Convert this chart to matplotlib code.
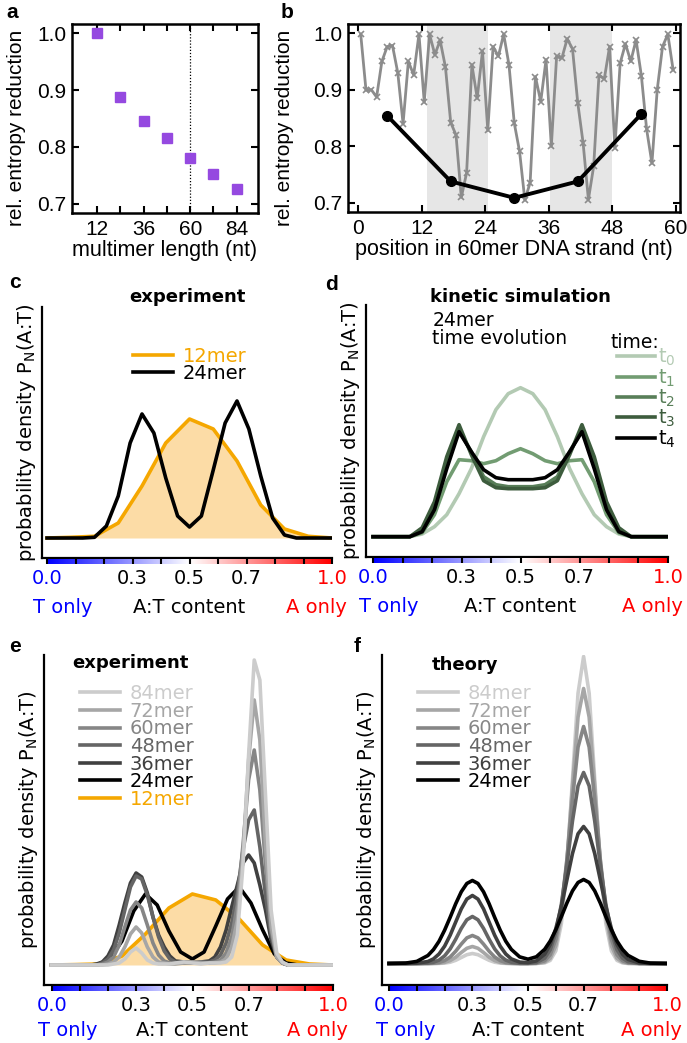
import numpy as np
import matplotlib
matplotlib.use('Agg')
import matplotlib.pyplot as plt

plt.rcParams['font.family'] = 'DejaVu Sans'
plt.rcParams['mathtext.default'] = 'regular'

W, H = 687, 1043

# ---------------------------------------------------
# DATA
# ---------------------------------------------------

# a: entropy reduction vs multimer length
mult_len = [12, 24, 36, 48, 60, 72, 84]
entropy_red = [1.0, 0.888, 0.845, 0.815, 0.78, 0.752, 0.727]

# b: entropy reduction along the 60mer strand
strand_pos = np.arange(1, 61) - 0.5
site_entropy = [0.998, 0.899, 0.900, 0.887, 0.950, 0.976, 0.978, 0.930, 0.840, 0.950,
                0.926, 0.998, 0.878, 0.998, 0.962, 0.987, 0.940, 0.842, 0.820, 0.710,
                0.753, 0.944, 0.885, 0.968, 0.828, 0.976, 0.959, 0.998, 0.944, 0.841,
                0.791, 0.705, 0.736, 0.923, 0.879, 0.953, 0.800, 0.959, 0.956, 0.990,
                0.972, 0.876, 0.806, 0.706, 0.765, 0.926, 0.919, 0.976, 0.797, 0.947,
                0.981, 0.950, 0.988, 0.925, 0.830, 0.770, 0.900, 0.976, 0.998, 0.935]
window_pos = [5.5, 17.5, 29.5, 41.5, 53.5]
window_entropy = [0.854, 0.738, 0.709, 0.738, 0.857]
shaded_regions = [(13.0, 24.5), (36.3, 48.0)]

# c: experiment 12mer / 24mer (arbitrary density units)
grid12 = np.linspace(0, 1, 13)
grid24 = np.linspace(0, 1, 25)
c_12mer = [0, 0.7, 1.7, 15, 52, 95, 119, 109, 77, 33, 9, 1.7, 0]
c_24mer = [0, 0, 0, 0, 0.7, 12, 42, 95, 124, 105, 60, 22, 11, 22, 68, 115, 137,
           109, 62, 20, 3, 0, 0, 0, 0]

# d: kinetic simulation, 24mer time evolution
d_t0 = [0, 0, 0, 0, 2.7, 10, 22, 43, 68, 100, 127, 143, 149, 143, 127, 100, 68, 43,
        22, 10, 2.7, 0, 0, 0, 0]
d_t1 = [0, 0, 0, 0, 4, 22, 55, 77, 76, 73, 76, 83, 88, 83, 76, 73, 76, 77, 55, 22,
        4, 0, 0, 0, 0]
d_t2 = [0, 0, 0, 0, 7, 30, 74, 106, 85, 60, 52, 50, 50, 50, 52, 60, 85, 106, 74,
        30, 7, 0, 0, 0, 0]
d_t3 = [0, 0, 0, 0, 9, 35, 80, 112, 82, 56, 49, 48, 48, 48, 49, 56, 82, 112, 80,
        35, 9, 0, 0, 0, 0]
d_t4 = [0, 0, 0, 0, 5, 27, 68, 105, 85, 67, 59, 57, 57, 57, 59, 67, 85, 105, 68,
        27, 5, 0, 0, 0, 0]

# e/f: common A:T grid for the longer multimers
grid_ef = [0.0, 0.06, 0.1, 0.14, 0.16, 0.18, 0.2, 0.22, 0.24, 0.26, 0.28, 0.3, 0.32,
           0.34, 0.36, 0.38, 0.4, 0.42, 0.44, 0.47, 0.5, 0.53, 0.56, 0.58, 0.6, 0.62,
           0.64, 0.66, 0.68, 0.7, 0.72, 0.74, 0.76, 0.78, 0.8, 0.82, 0.84, 0.86, 0.9,
           0.94, 1.0]

e_12mer = [0, 0.4, 1, 9, 31, 57, 71, 65, 46, 20, 5, 1, 0]
e_24mer = [0, 0, 0, 0, 0.4, 7, 24, 54, 71, 60, 34, 13, 6, 13, 39, 66, 78, 62, 35,
           11, 2, 0, 0, 0, 0]
e_36mer = [0, 0, 0, 0, 1, 3, 9, 20, 40, 62, 82, 92, 88, 72, 48, 30, 18, 9, 4, 3, 2,
           3, 4, 8, 18, 35, 58, 80, 102, 110, 102, 80, 55, 25, 8, 2, 0, 0, 0, 0, 0]
e_48mer = [0, 0, 0, 0, 0, 2, 6, 15, 32, 55, 78, 89, 86, 70, 48, 28, 14, 6, 3, 2, 3,
           2, 3, 5, 10, 22, 42, 72, 115, 145, 155, 118, 70, 30, 8, 2, 0, 0, 0, 0, 0]
e_60mer = [0, 0, 0, 0, 0, 1, 3, 8, 20, 38, 55, 63, 57, 40, 22, 10, 4, 2, 2, 3, 2,
           3, 2, 3, 5, 12, 28, 60, 120, 185, 215, 175, 100, 35, 8, 2, 0, 0, 0, 0, 0]
e_72mer = [0, 0, 0, 0, 0, 0, 1, 3, 8, 18, 31, 38, 32, 18, 8, 3, 2, 1, 1, 2, 3,
           2, 2, 2, 3, 6, 18, 45, 110, 205, 265, 225, 120, 40, 8, 2, 0, 0, 0, 0, 0]
e_84mer = [0, 0, 0, 0, 0, 0, 0, 1, 2, 6, 13, 17, 12, 5, 2, 1, 1, 1, 2, 3, 2,
           1, 2, 2, 2, 3, 8, 30, 100, 210, 305, 285, 170, 55, 12, 3, 0, 0, 0, 0, 0]

f_24mer = [0, 0.4, 2.1, 8.0, 13.9, 22.2, 33.3, 46.2, 59.8, 71.7, 80.0, 83, 80.0, 71.7,
           59.8, 46.2, 33.3, 22.3, 14.1, 6.6, 4.3, 6.7, 14.2, 22.5, 33.7, 46.8, 60.5,
           72.6, 81.0, 84, 81.0, 72.6, 60.5, 46.8, 33.7, 22.5, 14.0, 8.1, 2.2, 0.4, 0]
f_36mer = [0, 0, 0.3, 2.0, 4.6, 9.5, 17.3, 28.3, 41.5, 54.6, 64.4, 68, 64.4, 54.6,
           41.5, 28.3, 17.3, 9.5, 4.6, 1.4, 0.9, 2.6, 9.3, 19.0, 34.8, 57.0, 83.7,
           110.0, 129.7, 137, 129.7, 110.0, 83.7, 57.0, 34.8, 19.0, 9.3, 4.1, 0.6, 0, 0]
f_48mer = [0, 0, 0, 0.4, 1.3, 3.4, 7.6, 14.6, 24.3, 35.1, 43.7, 47, 43.7, 35.1, 24.3,
           14.6, 7.6, 3.4, 1.3, 0.2, 0.2, 1.0, 5.3, 13.8, 30.8, 59.2, 98.9, 142.5,
           177.6, 191, 177.6, 142.5, 98.9, 59.2, 30.8, 13.8, 5.3, 1.8, 0.1, 0, 0]
f_60mer = [0, 0, 0, 0.1, 0.3, 1.0, 2.9, 6.5, 12.3, 19.4, 25.6, 28, 25.6, 19.4, 12.3,
           6.5, 2.9, 1.0, 0.3, 0, 0, 0.3, 2.7, 8.8, 24.2, 55.0, 104.3, 164.5, 216.4,
           237, 216.4, 164.5, 104.3, 55.0, 24.2, 8.8, 2.7, 0.7, 0, 0, 0]
f_72mer = [0, 0, 0, 0, 0.1, 0.3, 1.1, 2.9, 6.3, 11.0, 15.2, 17, 15.2, 11.0, 6.3, 2.9,
           1.1, 0.3, 0.1, 0, 0, 0.1, 1.3, 5.2, 17.7, 47.6, 102.6, 177.4, 246.4, 275,
           246.4, 177.4, 102.6, 47.6, 17.7, 5.2, 1.3, 0.2, 0, 0, 0]
f_84mer = [0, 0, 0, 0, 0, 0.1, 0.4, 1.3, 3.2, 6.0, 8.8, 10, 8.8, 6.0, 3.2, 1.3, 0.4,
           0.1, 0, 0, 0, 0, 0.6, 3.1, 12.6, 39.9, 97.3, 184.2, 270.2, 307, 270.2,
           184.2, 97.3, 39.9, 12.6, 3.1, 0.6, 0, 0, 0, 0]

mer_labels = ['84mer', '72mer', '60mer', '48mer', '36mer', '24mer']
mer_colors = ['#cccccc', '#a6a6a6', '#868686', '#656565', '#404040', '#000000']
time_labels = ['$t_0$', '$t_1$', '$t_2$', '$t_3$', '$t_4$']
time_colors = ['#b3cab3', '#729c72', '#587e58', '#3d5c3d', '#000000']

purple = '#9549e0'
orange = '#f5a700'
orange_fill = '#fcdca6'
LW = 2.6

bar_ticks = np.linspace(0, 1, 11)
bar_labels = ['0.0', '', '', '0.3', '', '0.5', '', '0.7', '', '', '1.0']
bar_label_colors = ['#0000ff'] + ['black'] * 9 + ['#ff0000']


def px_axes(x0, y0, x1, y1):
    return fig.add_axes([x0 / W, 1 - y1 / H, (x1 - x0) / W, (y1 - y0) / H])


def box_style(ax):
    for s in ax.spines.values():
        s.set_linewidth(1.8)
    ax.tick_params(direction='in', top=True, right=True, length=5, width=1.5,
                   labelsize=15, labelfontfamily='Liberation Sans')
    ax.tick_params(axis='x', pad=5)
    ax.tick_params(axis='y', pad=4)


def dist_panel(x0, y0, x1, y1, bx0, bx1, ylim, text_off):
    ax = px_axes(x0, y0, x1, y1)
    ax.set_xlim(-(bx0 - x0) / (bx1 - bx0), 1.0)
    ax.set_ylim(*ylim)
    for s in ['top', 'right']:
        ax.spines[s].set_visible(False)
    ax.spines['left'].set_linewidth(1.6)
    ax.spines['bottom'].set_linewidth(1.6)
    ax.set_xticks([])
    ax.set_yticks([])
    ax.set_ylabel('probability density $P_N$(A:T)', fontsize=14, labelpad=3)

    bar = px_axes(bx0, y1 + 1, bx1, y1 + 6)
    bar.imshow(np.linspace(0, 1, 256)[None, :], cmap='bwr', aspect='auto',
               extent=[0, 1, 0, 1])
    bar.set_xlim(0, 1)
    bar.set_ylim(0, 1)
    for s in bar.spines.values():
        s.set_visible(False)
    bar.set_yticks([])
    bar.set_xticks(bar_ticks)
    bar.set_xticklabels(bar_labels)
    bar.tick_params(axis='x', direction='in', length=3.8, width=1.5, pad=3.5,
                    labelsize=14)
    for lbl, col in zip(bar.get_xticklabels(), bar_label_colors):
        lbl.set_color(col)
    tr = bar.get_xaxis_transform()
    for txt, xpos, ha, col in [('T only', -0.048, 'left', '#0000ff'),
                               ('A:T content', 0.5, 'center', 'black'),
                               ('A only', 1.052, 'right', '#ff0000')]:
        bar.annotate(txt, xy=(xpos, 0), xycoords=tr, xytext=(0, -text_off),
                     textcoords='offset points', ha=ha, va='center',
                     fontsize=14, color=col)
    return ax


def leg(ax, handles, labels, x, y, fs=14, hl=2.06, htp=0.5, ls=-0.05):
    ax.legend(handles, labels, loc='upper left', bbox_to_anchor=(x, y),
              frameon=False, fontsize=fs, handlelength=hl, handletextpad=htp,
              labelspacing=ls, borderaxespad=0, borderpad=0,
              labelcolor='linecolor')


fig = plt.figure(figsize=(W / 100, H / 100), dpi=100)
fig.patch.set_facecolor('white')

# ---------------------------------------------------
# PANEL a
# ---------------------------------------------------
ax_a = px_axes(72, 24, 258, 213)
ax_a.plot(mult_len, entropy_red, 's', color=purple, ms=7.5, mec=purple)
ax_a.axvline(60, color='black', lw=0.9, ls=(0, (1, 1.5)), zorder=0)
ax_a.set_xlim(-1, 95)
ax_a.set_ylim(0.684, 1.016)
ax_a.set_xticks(mult_len)
ax_a.set_xticklabels(['12', '', '36', '', '60', '', '84'])
ax_a.set_yticks([0.7, 0.8, 0.9, 1.0])
ax_a.set_yticklabels(['0.7', '0.8', '0.9', '1.0'])
box_style(ax_a)
ax_a.set_xlabel('multimer length (nt)', fontsize=15.5, family='Liberation Sans',
                labelpad=1)
ax_a.set_ylabel('rel. entropy reduction', fontsize=15, family='Liberation Sans')
ax_a.yaxis.set_label_coords(-0.247, 0.45)

# ---------------------------------------------------
# PANEL b
# ---------------------------------------------------
ax_b = px_axes(348, 24, 680, 212)
for lo, hi in shaded_regions:
    ax_b.axvspan(lo, hi, color='#e6e6e6', lw=0, zorder=0)
ax_b.plot(strand_pos, site_entropy, '-x', color='#8c8c8c', lw=2, ms=5, mew=1.2)
ax_b.plot(window_pos, window_entropy, '-o', color='black', lw=2.8, ms=7)
ax_b.set_xlim(-1.9, 60.8)
ax_b.set_ylim(0.684, 1.016)
ax_b.set_xticks([0, 12, 24, 36, 48, 60])
ax_b.set_yticks([0.7, 0.8, 0.9, 1.0])
ax_b.set_yticklabels(['0.7', '0.8', '0.9', '1.0'])
box_style(ax_b)
ax_b.set_xlabel('position in 60mer DNA strand (nt)', fontsize=15.5,
                family='Liberation Sans', labelpad=1)
ax_b.set_ylabel('rel. entropy reduction', fontsize=15, family='Liberation Sans')
ax_b.yaxis.set_label_coords(-0.163, 0.45)

# ---------------------------------------------------
# PANEL c
# ---------------------------------------------------
ax_c = dist_panel(42, 307, 332, 558, 47, 332, (-20, 231), 31.5)
ax_c.fill_between(grid12, 0, c_12mer, color=orange_fill, lw=0)
l12, = ax_c.plot(grid12, c_12mer, color=orange, lw=LW)
l24, = ax_c.plot(grid24, c_24mer, color='black', lw=LW)
leg(ax_c, [l12, l24], ['12mer', '24mer'], 0.314, 0.841, ls=-0.1)
ax_c.text(0.503, 1.04, 'experiment', transform=ax_c.transAxes, ha='center',
          va='center', fontsize=13, fontweight='bold')

# ---------------------------------------------------
# PANEL d
# ---------------------------------------------------
ax_d = dist_panel(366, 305, 668, 557, 373, 668, (-20.3, 231.7), 31.5)
d_lines = []
for ys, col in zip([d_t0, d_t1, d_t2, d_t3, d_t4], time_colors):
    ln, = ax_d.plot(grid24, ys, color=col, lw=LW)
    d_lines.append(ln)
leg(ax_d, d_lines, time_labels, 0.831, 0.833, hl=1.96, htp=0.15, ls=-0.05)
ax_d.text(0.212, 1.032, 'kinetic simulation', transform=ax_d.transAxes,
          ha='left', va='center', fontsize=13, fontweight='bold')
ax_d.text(0.219, 0.940, '24mer', transform=ax_d.transAxes, ha='left',
          va='center', fontsize=13.5)
ax_d.text(0.219, 0.869, 'time evolution', transform=ax_d.transAxes, ha='left',
          va='center', fontsize=13.5)
ax_d.text(0.808, 0.853, 'time:', transform=ax_d.transAxes, ha='left',
          va='center', fontsize=13.5)

# ---------------------------------------------------
# PANEL e
# ---------------------------------------------------
ax_e = dist_panel(44, 655, 333, 985, 51.7, 333.3, (-20, 310), 28.5)
ax_e.fill_between(grid12, 0, e_12mer, color=orange_fill, lw=0)
le12, = ax_e.plot(grid12, e_12mer, color=orange, lw=LW)
e_data = [e_84mer, e_72mer, e_60mer, e_48mer, e_36mer]
e_lines = {}
ln, = ax_e.plot(grid24, e_24mer, color='black', lw=LW)
e_lines['24mer'] = ln
for ys, col, lab in zip(e_data[::-1], mer_colors[:5][::-1], mer_labels[:5][::-1]):
    ln, = ax_e.plot(grid_ef, ys, color=col, lw=LW)
    e_lines[lab] = ln
leg(ax_e, [e_lines[m] for m in mer_labels] + [le12], mer_labels + ['12mer'],
    0.1246, 0.912, ls=-0.07)
ax_e.text(0.097, 0.976, 'experiment', transform=ax_e.transAxes, ha='left',
          va='center', fontsize=13, fontweight='bold')

# ---------------------------------------------------
# PANEL f
# ---------------------------------------------------
ax_f = dist_panel(382, 655, 667, 985, 389, 667, (-21.5, 308.5), 28.5)
f_data = [f_84mer, f_72mer, f_60mer, f_48mer, f_36mer, f_24mer]
f_lines = []
for ys, col in zip(f_data, mer_colors):
    ln, = ax_f.plot(grid_ef, ys, color=col, lw=LW)
    f_lines.append(ln)
leg(ax_f, f_lines, mer_labels, 0.126, 0.912, ls=-0.07)
ax_f.text(0.175, 0.970, 'theory', transform=ax_f.transAxes, ha='left',
          va='center', fontsize=13, fontweight='bold')

# ---------------------------------------------------
# PANEL LETTERS
# ---------------------------------------------------
for lab, (px, py) in zip('abcdef', [(12, 13), (287, 13), (15, 283), (331, 285),
                                    (15, 647), (357, 647)]):
    fig.text(px / W, 1 - py / H, lab, fontsize=15, fontweight='bold',
             family='Liberation Sans', ha='center', va='center')

plt.savefig('out.png', dpi=100, facecolor='white')
plt.close()
